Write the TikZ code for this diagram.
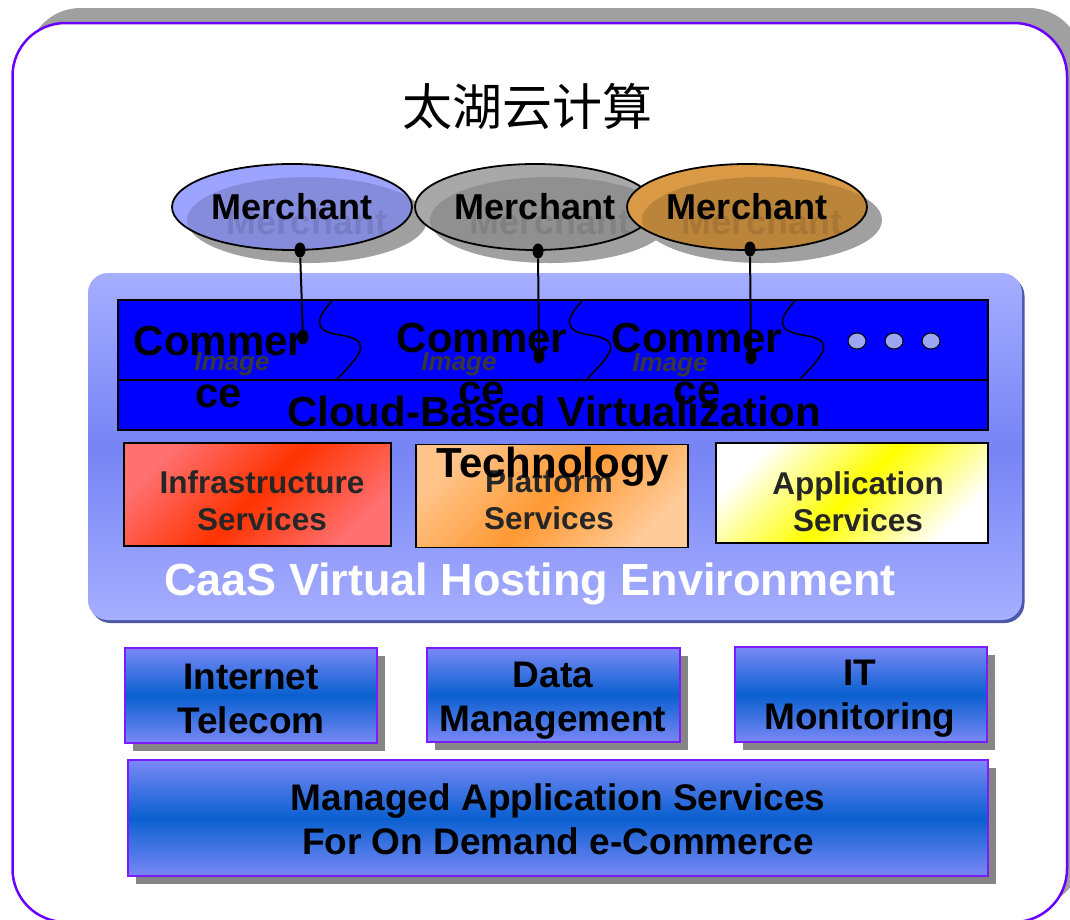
\documentclass[tikz,border=0pt]{standalone}
\usepackage{fontspec}
\setmainfont{Liberation Sans}
\newfontfamily\cjk{Noto Sans CJK SC}
\usetikzlibrary{shapes.geometric,shadows}

\definecolor{framepurple}{HTML}{6A00FF}
\definecolor{shadowgray}{HTML}{A0A0A0}
\definecolor{mblue}{HTML}{9CA4FF}
\definecolor{mgray}{HTML}{A8A8A8}
\definecolor{morange}{HTML}{DA9A45}
\definecolor{paneltop}{HTML}{A6AEFF}
\definecolor{panelmid}{HTML}{7684F5}
\definecolor{paneledge}{HTML}{4B58A6}
\definecolor{purebl}{HTML}{0000FF}
\definecolor{tilelight}{HTML}{7A88F6}
\definecolor{tiledark}{HTML}{0A60D0}
\definecolor{tileline}{HTML}{7A1CFF}
\definecolor{tileshadow}{HTML}{858585}
\definecolor{ringfill}{HTML}{9CA6F2}
\definecolor{servtext}{HTML}{262626}
\definecolor{imgtext}{HTML}{383838}
\definecolor{infralight}{HTML}{FF7070}
\definecolor{infrared}{HTML}{FF3300}
\definecolor{platlight}{HTML}{FFCC99}
\definecolor{platorange}{HTML}{FF9933}

\newcommand{\fsz}[2]{\fontsize{#1}{#2}\selectfont}

\tikzset{
  merchant/.style={ellipse, draw, line width=1.8pt, minimum width=240pt,
    minimum height=86pt, inner sep=0pt, font=\bfseries\fsz{36}{40}},
  mshade/.style={ellipse, fill=shadowgray, minimum width=240pt,
    minimum height=86pt, inner sep=0pt},
  ghost/.style={text=black, text opacity=.1, font=\bfseries\fsz{36}{40}},
  knob/.style={ellipse, fill=black, minimum width=11pt, minimum height=15pt, inner sep=0pt},
  wire/.style={line width=2pt},
  wave/.style={line width=1.6pt},
  band/.style={draw=black, line width=2.5pt, fill=purebl, minimum width=870pt, inner sep=0pt},
  ring/.style={ellipse, draw=black, line width=1pt, fill=ringfill, minimum width=18pt,
    minimum height=16pt, inner sep=0pt},
  commer/.style={align=center, font=\bfseries\fsz{42}{52}},
  imglabel/.style={text=imgtext, font=\bfseries\itshape\fsz{26}{30}},
  bigword/.style={font=\bfseries\fsz{42}{50}},
  svc/.style={draw=black, line width=1.5pt, inner sep=0pt},
  svctext/.style={align=center, text=servtext, font=\bfseries\fsz{31.5}{37}},
  tile/.style={draw=tileline, line width=2pt, inner sep=0pt,
    top color=tilelight, bottom color=tilelight, middle color=tiledark,
    drop shadow={shadow xshift=8pt, shadow yshift=-8pt, fill=tileshadow, opacity=1}},
  tiletext/.style={align=center, font=\bfseries\fsz{37}{44}}
}

\begin{document}
\begin{tikzpicture}[x=1pt, y=-1pt]
	\useasboundingbox (0,0) rectangle (1070,919);

	% outer frame
	\fill[shadowgray, rounded corners=53pt] (27.5,8) rectangle (1082,907);
	\draw[framepurple, line width=2.5pt, fill=white, rounded corners=53pt] (12.5,23) rectangle (1067,922);

	\node[font=\cjk\fsz{50}{58}] (title) at (527,106) {太湖云计算};

	% merchants
	\foreach \name/\px/\col in {ma/292/mblue, mb/535/mgray, mc/747/morange} {
		\node[mshade] (\name-s) at (\px+15,220) {};
		\node[merchant, fill=\col] (\name) at (\px,207) {Merchant};
		\begin{scope}
			\clip (\name.center) ellipse (120pt and 43pt);
			\fill[black, opacity=.14] (\name-s.center) ellipse (120pt and 43pt);
		\end{scope}
		\node[ghost] (\name-t) at (\px+15,222) {Merchant};
	}

	% hosting panel
	\node[rounded corners=20pt, minimum width=934pt, minimum height=347pt,
		top color=paneltop, bottom color=paneltop, middle color=panelmid,
		drop shadow={shadow xshift=2.5pt, shadow yshift=-3pt, fill=paneledge, opacity=1}]
		(caas) at (555,446.5) {};

	\node[band, minimum height=80pt] (commerce) at (553,340) {};
	\node[band, minimum height=50pt] (virt) at (553,405) {};

	% wavy separators
	\foreach \dx in {0,250,463}
		\draw[wave] (332+\dx,301) .. controls (318+\dx,316) and (310+\dx,331) .. (340+\dx,335)
			.. controls (370+\dx,340) and (366+\dx,350) .. (337+\dx,379);

	\node[commer] (c1) at (219,367) {Commer\\ce};
	\node[commer] (c2) at (482,364) {Commer\\ce};
	\node[commer] (c3) at (697,364) {Commer\\ce};
	\node[imglabel] (i1) at (232,364) {Image};
	\node[imglabel] (i2) at (459,364) {Image};
	\node[imglabel] (i3) at (670,365) {Image};

	\node[ring] (r1) at (857,341) {};
	\node[ring] (r2) at (894,341) {};
	\node[ring] (r3) at (931,341) {};

	% service boxes
	\node[svc, minimum width=267pt, minimum height=103pt,
		left color=infralight, right color=infralight, middle color=infrared, shading angle=45]
		(infra) at (257.5,494.5) {};
	\node[svc, minimum width=272pt, minimum height=103pt,
		left color=platlight!85!platorange, right color=platlight, middle color=platorange, shading angle=45]
		(platform) at (552,496) {};
	\node[svc, minimum width=272pt, minimum height=100pt,
		left color=white, right color=white, middle color=yellow, shading angle=45]
		(appl) at (852,493) {};
	\node[svctext] (infra-txt) at (262,501) {Infrastructure\\Services};
	\node[svctext] (platform-txt) at (549,500) {Platform\\Services};
	\node[svctext] (appl-txt) at (858,502) {Application\\Services};

	\node[bigword] (cloud) at (554,411) {Cloud-Based Virtualization};
	\node[bigword] (tech) at (553,467) {Technology};
	\node[text=white, font=\bfseries\fsz{45}{50}] (caaslabel) at (530,584) {CaaS Virtual Hosting Environment};

	% merchant links
	\node[knob] (ka) at (300,250) {};
	\node[knob] (kb) at (538,251) {};
	\node[knob] (kc) at (750,249) {};
	\node[knob] (la) at (303,337) {};
	\node[knob] (lb) at (539,356) {};
	\node[knob] (lc) at (751,357) {};
	\draw[wire] (ka) -- (la);
	\draw[wire] (kb) -- (lb);
	\draw[wire] (kc) -- (lc);

	% managed services
	\node[tile, minimum width=252pt, minimum height=95pt] (net) at (251,695.5) {};
	\node[tile, minimum width=253pt, minimum height=94pt] (data) at (553.5,695) {};
	\node[tile, minimum width=252pt, minimum height=95pt] (itmon) at (861,694.5) {};
	\node[tile, minimum width=860pt, minimum height=116pt] (managed) at (558,818) {};
	\node[tiletext] (net-txt) at (251,699) {Internet\\Telecom};
	\node[tiletext] (data-txt) at (553,701) {Data\\Management};
	\node[tiletext] (itmon-txt) at (860,699) {IT\\Monitoring};
	\node[tiletext] (managed-txt) at (558,819) {Managed Application Services\\For On Demand e-Commerce};
\end{tikzpicture}
\end{document}
